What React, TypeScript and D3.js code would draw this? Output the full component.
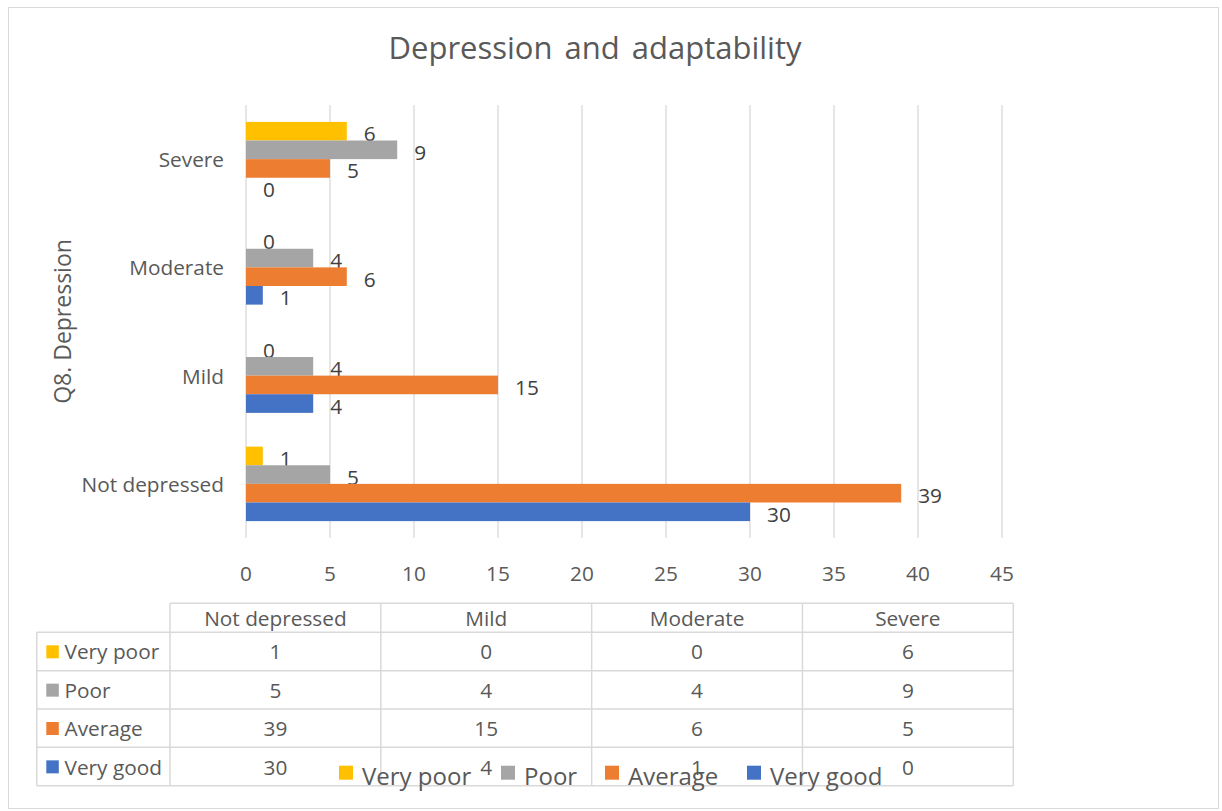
import React from "react";
import * as d3 from "d3";

const categories = ["Not depressed", "Mild", "Moderate", "Severe"];
const seriesNames = ["Very poor", "Poor", "Average", "Very good"];
const veryPoor = [1, 0, 0, 6];
const poor = [5, 4, 4, 9];
const average = [39, 15, 6, 5];
const veryGood = [30, 4, 1, 0];
const seriesColors = ["#FFC000", "#A5A5A5", "#ED7D31", "#4472C4"];
const xTicks = [0, 5, 10, 15, 20, 25, 30, 35, 40, 45];
const title = "Depression and adaptability";
const yTitle = "Q8. Depression";

const seriesValues = [veryPoor, poor, average, veryGood];

const W = 1222;
const H = 811;
const FONT = "'Open Sans', sans-serif";
const TXT = "#595959";
const GRID = "#D9D9D9";
const FS = 20.8;

export default function App() {
  const plot = { left: 246, right: 1002, top: 105, bottom: 538 };
  const x = d3.scaleLinear().domain([0, 45]).range([plot.left, plot.right]);
  const y = d3
    .scaleBand<string>()
    .domain([...categories].reverse())
    .range([plot.top, plot.bottom])
    .paddingInner(0.312)
    .paddingOuter(0.156);
  const ys = d3
    .scaleBand<string>()
    .domain(seriesNames)
    .range([0, y.bandwidth()]);

  // table geometry
  const tLeft = 36.8;
  const tColStart = 170;
  const tRight = 1013.3;
  const tTop = 603.3;
  const headerBottom = 632.3;
  const rowH = 38.35;
  const colW = (tRight - tColStart) / categories.length;
  const rowLines = d3.range(seriesNames.length + 1).map((i) => headerBottom + i * rowH);

  const legendItems = [
    { name: seriesNames[0], x: 339 },
    { name: seriesNames[1], x: 501 },
    { name: seriesNames[2], x: 605 },
    { name: seriesNames[3], x: 747 },
  ];

  return (
    <svg
      width={W}
      height={H}
      style={{ position: "absolute", left: 0, top: 0, background: "#fff" }}
      fontFamily={FONT}
    >
      <rect x={0} y={0} width={W} height={H} fill="#fff" />
      <rect x={8.5} y={7.5} width={1210} height={801} fill="#fff" stroke={GRID} strokeWidth={1} />
      <text
        x={595}
        y={47}
        textAnchor="middle"
        dominantBaseline="central"
        fontSize={31}
        wordSpacing={4}
        fill={TXT}
      >
        {title}
      </text>

      {/* gridlines */}
      {xTicks.map((t) => (
        <line key={t} x1={x(t)} x2={x(t)} y1={plot.top} y2={plot.bottom} stroke={GRID} strokeWidth={1.3} />
      ))}

      {/* bars */}
      {categories.map((c, ci) => (
        <g key={c} transform={`translate(0,${y(c)})`}>
          {seriesNames.map((s, si) => {
            const v = seriesValues[si][ci];
            const by = ys(s)!;
            return (
              <g key={s}>
                <rect
                  x={x(0)}
                  y={by}
                  width={x(v) - x(0)}
                  height={ys.bandwidth()}
                  fill={seriesColors[si]}
                />
                <text
                  x={x(v) + 17}
                  y={by + ys.bandwidth() / 2 + 2}
                  dominantBaseline="central"
                  fontSize={FS}
                  fill="#404040"
                >
                  {v}
                </text>
              </g>
            );
          })}
        </g>
      ))}

      {/* category labels */}
      {categories.map((c) => (
        <text
          key={c}
          x={224}
          y={y(c)! + y.bandwidth() / 2}
          textAnchor="end"
          dominantBaseline="central"
          fontSize={FS}
          fill={TXT}
        >
          {c}
        </text>
      ))}

      {/* x tick labels */}
      {xTicks.map((t) => (
        <text key={t} x={x(t)} y={573} textAnchor="middle" dominantBaseline="central" fontSize={FS} fill={TXT}>
          {t}
        </text>
      ))}

      {/* y title */}
      <text
        transform={`translate(62,${(plot.top + plot.bottom) / 2}) rotate(-90)`}
        textAnchor="middle"
        dominantBaseline="central"
        fontSize={23}
        fill={TXT}
      >
        {yTitle}
      </text>

      {/* data table */}
      <g stroke={GRID} strokeWidth={1.5}>
        <line x1={tColStart} x2={tRight} y1={tTop} y2={tTop} />
        {rowLines.map((ly, i) => (
          <line key={i} x1={tLeft} x2={tRight} y1={ly} y2={ly} />
        ))}
        <line x1={tLeft} x2={tLeft} y1={headerBottom} y2={rowLines[rowLines.length - 1]} />
        {d3.range(categories.length + 1).map((i) => (
          <line
            key={i}
            x1={tColStart + i * colW}
            x2={tColStart + i * colW}
            y1={tTop}
            y2={rowLines[rowLines.length - 1]}
          />
        ))}
      </g>
      {categories.map((c, ci) => (
        <text
          key={c}
          x={tColStart + (ci + 0.5) * colW}
          y={(tTop + headerBottom) / 2}
          textAnchor="middle"
          dominantBaseline="central"
          fontSize={FS}
          fill={TXT}
        >
          {c}
        </text>
      ))}
      {seriesNames.map((s, si) => (
        <g key={s}>
          <rect x={46.3} y={headerBottom + si * rowH + 13} width={12.5} height={13} fill={seriesColors[si]} />
          <text
            x={64.5}
            y={headerBottom + (si + 0.5) * rowH}
            dominantBaseline="central"
            fontSize={FS}
            fill={TXT}
          >
            {s}
          </text>
          {categories.map((c, ci) => (
            <text
              key={c}
              x={tColStart + (ci + 0.5) * colW}
              y={headerBottom + (si + 0.5) * rowH}
              textAnchor="middle"
              dominantBaseline="central"
              fontSize={FS}
              fill={TXT}
            >
              {seriesValues[si][ci]}
            </text>
          ))}
        </g>
      ))}

      {/* legend */}
      {legendItems.map((it, i) => (
        <g key={it.name}>
          <rect x={it.x} y={765.7} width={14} height={14} fill={seriesColors[i]} />
          <text x={it.x + 23} y={775} dominantBaseline="central" fontSize={24} fill={TXT}>
            {it.name}
          </text>
        </g>
      ))}
    </svg>
  );
}
